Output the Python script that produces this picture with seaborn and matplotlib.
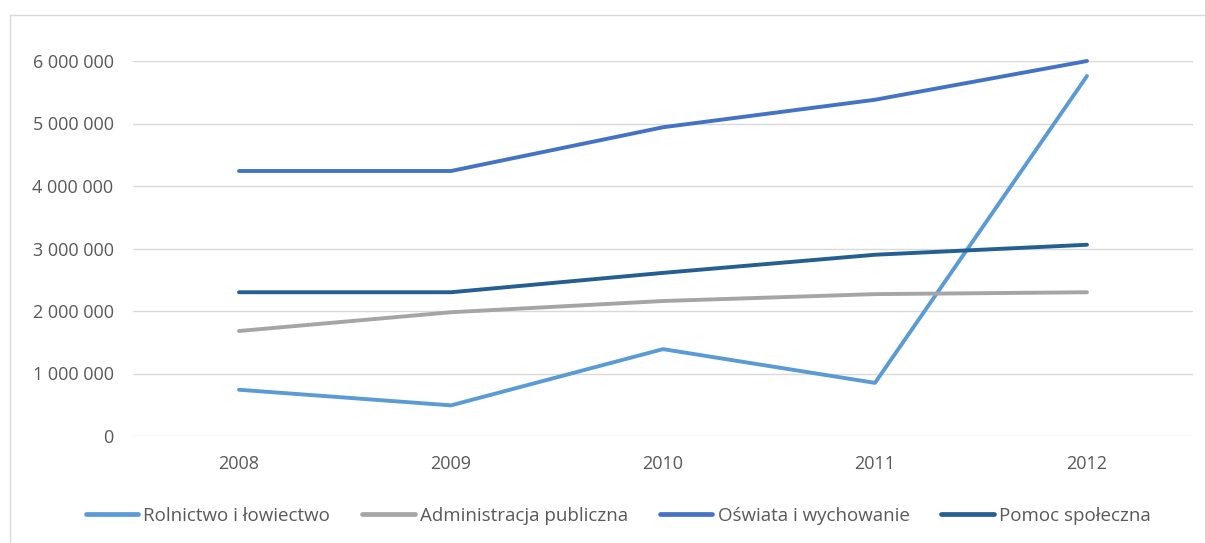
import pandas as pd
import matplotlib.pyplot as plt
import seaborn as sns

years = ["2008", "2009", "2010", "2011", "2012"]
rolnictwo = [740000, 490000, 1390000, 850000, 5760000]
administracja = [1680000, 1980000, 2160000, 2270000, 2300000]
oswiata = [4240000, 4240000, 4940000, 5380000, 6000000]
pomoc = [2300000, 2300000, 2610000, 2900000, 3060000]

series_names = ["Rolnictwo i łowiectwo", "Administracja publiczna",
                "Oświata i wychowanie", "Pomoc społeczna"]
colors = ["#5B9BD5", "#A5A5A5", "#4472C4", "#255E91"]
y_ticks = [0, 1000000, 2000000, 3000000, 4000000, 5000000, 6000000]

df = pd.DataFrame({"rok": years, series_names[0]: rolnictwo,
                   series_names[1]: administracja, series_names[2]: oswiata,
                   series_names[3]: pomoc})
long_df = df.melt(id_vars="rok", var_name="seria", value_name="wartosc")
long_df["x"] = long_df["rok"].map({y: i for i, y in enumerate(years)})

sns.set_style("white")
plt.rcParams["font.family"] = ["Open Sans", "DejaVu Sans"]

fig = plt.figure(figsize=(12.05, 5.43), dpi=100)
ax = fig.add_axes([133 / 1205, 1 - 436 / 543, 1060 / 1205, 375 / 543])

sns.lineplot(data=long_df, x="x", y="wartosc", hue="seria",
             hue_order=series_names, palette=colors, linewidth=2.8,
             ax=ax, legend=False, clip_on=False)

ax.set_xlim(-0.5, 4.5)
ax.set_ylim(0, 6000000)
ax.set_xticks(range(len(years)))
ax.set_xticklabels(years)
ax.set_yticks(y_ticks)
ax.set_yticklabels([f"{v:,}".replace(",", " ") for v in y_ticks])
ax.yaxis.grid(True, color="#D9D9D9", linewidth=1)
ax.set_axisbelow(True)
for s in ax.spines.values():
    s.set_visible(False)
ax.tick_params(axis="both", length=0, labelsize=13, labelcolor="#595959")
ax.tick_params(axis="y", pad=14)
ax.tick_params(axis="x", pad=14)
ax.set_xlabel("")
ax.set_ylabel("")

handles = [plt.Line2D([], [], color=c, linewidth=3.4) for c in colors]
fig.legend(handles, series_names, loc="center", bbox_to_anchor=(0.513, 1 - 516 / 543),
           ncol=4, frameon=False, fontsize=13.5, handlelength=2.8,
           columnspacing=1.7, handletextpad=0.28, labelcolor="#595959")

# ramka wykresu (lewa i górna krawędź)
fig.add_artist(plt.Line2D([10 / 1205, 10 / 1205], [0, 1 - 15 / 543],
                          transform=fig.transFigure, color="#D9D9D9", linewidth=1))
fig.add_artist(plt.Line2D([10 / 1205, 1], [1 - 15 / 543, 1 - 15 / 543],
                          transform=fig.transFigure, color="#D9D9D9", linewidth=1))

fig.savefig("out.png", dpi=100)
